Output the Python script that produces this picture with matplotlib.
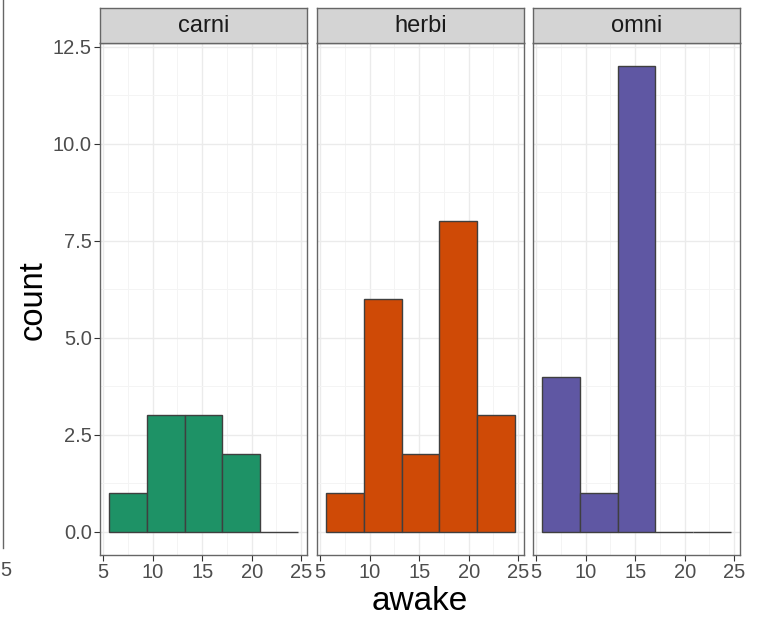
import numpy as np
import matplotlib.pyplot as plt
from matplotlib.lines import Line2D

plt.rcParams['font.family'] = ['Liberation Sans', 'DejaVu Sans']

# histogram of awake hours, one panel per diet
edges  = np.array([5.63, 9.43, 13.23, 17.03, 20.83, 24.63])
vores  = ["carni", "herbi", "omni"]
counts = {
    "carni": [1, 3, 3, 2, 0],
    "herbi": [1, 6, 2, 8, 3],
    "omni":  [4, 1, 12, 0, 0],
}
colors = {"carni": "#1E9266", "herbi": "#CF4A06", "omni": "#5F57A3"}
xticks = [5, 10, 15, 20, 25]
yticks = [0.0, 2.5, 5.0, 7.5, 10.0, 12.5]

W, H = 761, 621
fig = plt.figure(figsize=(W / 100, H / 100), dpi=100)

lefts = [100, 317, 533]
pw = 207
top, bottom, strip_top = 43, 555, 8

span = edges[-1] - edges[0]
xlim = (edges[0] - 0.05 * span, edges[-1] + 0.05 * span)
ylim = (-0.6, 12.6)

for i, (v, lx) in enumerate(zip(vores, lefts)):
    ax = fig.add_axes([lx / W, (H - bottom) / H, pw / W, (bottom - top) / H])
    ax.set_xlim(*xlim)
    ax.set_ylim(*ylim)
    ax.set_xticks(xticks)
    ax.set_xticks([7.5, 12.5, 17.5, 22.5], minor=True)
    ax.set_yticks(yticks)
    ax.set_yticks([1.25, 3.75, 6.25, 8.75, 11.25], minor=True)
    ax.grid(True, which="major", color="#EBEBEB", lw=1.0, zorder=0)
    ax.grid(True, which="minor", color="#F4F4F4", lw=0.7, zorder=0)
    ax.set_axisbelow(True)
    ax.bar(edges[:-1], counts[v], width=np.diff(edges), align="edge",
           color=colors[v], edgecolor="#3F3F3F", lw=1.0, zorder=2)
    for s in ax.spines.values():
        s.set_color("#666666")
        s.set_linewidth(1.0)
    ax.tick_params(which="minor", length=0)
    ax.tick_params(which="major", length=4, color="#333333", width=0.8,
                   labelsize=14.5, labelcolor="#4D4D4D", pad=2)
    ax.set_xticklabels([str(t) for t in xticks])
    if i == 0:
        ax.set_yticklabels([f"{t:.1f}" for t in yticks])
    else:
        ax.tick_params(axis="y", left=False, labelleft=False)

    # facet strip
    sx = fig.add_axes([lx / W, (H - top) / H, pw / W, (top - strip_top) / H])
    sx.set_facecolor("#D4D4D4")
    sx.set_xticks([])
    sx.set_yticks([])
    for s in sx.spines.values():
        s.set_color("#666666")
        s.set_linewidth(1.0)
    sx.text(0.5, 0.5, v, ha="center", va="center", fontsize=17,
            color="#1A1A1A", transform=sx.transAxes)

fig.text(33 / W, 1 - 300 / H, "count", rotation=90, ha="center",
         va="center", fontsize=23.5)
fig.text(420 / W, 1 - 601 / H, "awake", ha="center", va="center",
         fontsize=24)

# edge of the neighbouring plot
fig.add_artist(Line2D([2.5 / W, 2.5 / W], [1 - 548 / H, 1.0],
                      color="#666666", lw=1.0))
fig.text(0.5 / W, 1 - 570 / H, "5", ha="left", va="center", fontsize=14.5,
         color="#4D4D4D")

fig.savefig("out.png", dpi=100)
